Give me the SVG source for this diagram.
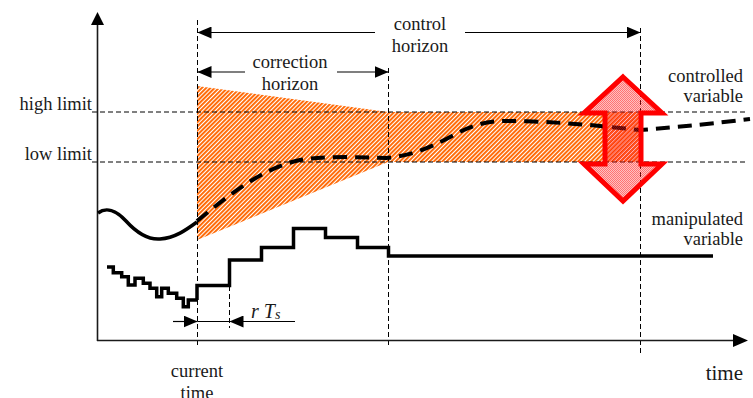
<svg xmlns="http://www.w3.org/2000/svg" width="753" height="398" viewBox="0 0 753 398">
<defs>
<pattern id="hatch" patternUnits="userSpaceOnUse" width="3" height="3" patternTransform="rotate(-45)">
<rect x="0" y="0" width="3" height="3" fill="#ffffff"/>
<rect x="0" y="0" width="3" height="1.9" fill="#ff6600"/>
</pattern>
<pattern id="chk" patternUnits="userSpaceOnUse" width="2" height="2">
<rect x="0" y="0" width="2" height="2" fill="#ff3030" fill-opacity="0.3"/>
<rect x="0" y="0" width="1" height="1" fill="#ff0000" fill-opacity="0.4"/>
<rect x="1" y="1" width="1" height="1" fill="#ff0000" fill-opacity="0.4"/>
</pattern>
<marker id="ah" viewBox="0 0 14 12" refX="14" refY="6" markerWidth="14" markerHeight="12" markerUnits="userSpaceOnUse" orient="auto-start-reverse">
<path d="M0,0 L14,6 L0,12 Z" fill="#000"/>
</marker>
</defs>
<style>
text{font-family:'Liberation Serif','Tinos','DejaVu Serif',serif;font-size:18.5px;fill:#1a1a1a}
.dash{fill:none;stroke:#000;stroke-width:1;stroke-dasharray:5,3}
.ax{fill:none;stroke:#1a1a1a;stroke-width:1.6}
.dim{fill:none;stroke:#000;stroke-width:1.2}
.thick{fill:none;stroke:#000;stroke-width:3.5;stroke-linejoin:miter}
</style>
<rect width="753" height="398" fill="#fff"/>

<g id="hatched-region">
<path d="M197,86 L388,112 L640,112 L640,162 L388,162 L197,240 Z" fill="url(#hatch)"/>
</g>

<g id="guides">
<line class="dash" x1="92" y1="112" x2="748" y2="112"/>
<line class="dash" x1="92" y1="162" x2="748" y2="162"/>
<line class="dash" x1="197.5" y1="20" x2="197.5" y2="348"/>
<line class="dash" x1="388.5" y1="68" x2="388.5" y2="348"/>
<line class="dash" x1="640.5" y1="28" x2="640.5" y2="356"/>
<line class="dash" x1="229.5" y1="286" x2="229.5" y2="328"/>
</g>

<g id="axes">
<line class="ax" x1="97.5" y1="341" x2="97.5" y2="24"/>
<path d="M91,25 L97.5,12 L104,25 Z" fill="#000"/>
<line class="ax" x1="97" y1="340.5" x2="734" y2="340.5"/>
<path d="M733,334 L748,340.5 L733,347 Z" fill="#000"/>
</g>

<g id="controlled-variable">
<path class="thick" stroke-width="3" d="M98,213 C106,207 116,210 126,221 C136,232 147,240 160,239 C175,238 186,230 197,222"/>
<path fill="none" stroke="#000" stroke-width="4" stroke-dasharray="14,8" d="M197,221 C228,196 262,168 300,160 C322,156 360,157 386,158 C410,156 430,148 452,136 C470,126 485,121 505,121 C540,121 580,124 600,126 L640,130 C680,127 718,123 750,119"/>
</g>

<g id="manipulated-variable">
<path class="thick" stroke-width="3" d="M107,267 H113.3 V272.7 H121.7 V276.7 H128.3 V285 H135 V278.3 H143.3 V283.3 H150 V288.3 H156.7 V296.7 H161.7 V288.3 H168.3 V293.3 H176.7 V298.3 H183.3 V306.7 H188.3 V300 H197"/>
<path class="thick" d="M197,300 V285.5 H229.5 V260 H261.5 V247.5 H293.5 V228.5 H325.5 V237.5 H357.5 V247.5 H388.5 V256 H713"/>
</g>

<g id="red-arrow">
<path d="M623,77 L662,113 L641,113 L641,164 L662,164 L623,201 L584,164 L605,164 L605,113 L584,113 Z" fill="url(#chk)" stroke="#ff0000" stroke-width="5" stroke-linejoin="miter"/>
</g>

<g id="connectors">
<line class="dim" x1="375" y1="32.5" x2="197.5" y2="32.5" marker-end="url(#ah)"/>
<line class="dim" x1="465" y1="32.5" x2="640.5" y2="32.5" marker-end="url(#ah)"/>
<line class="dim" x1="245" y1="72" x2="197.5" y2="72" marker-end="url(#ah)"/>
<line class="dim" x1="337" y1="72" x2="388.5" y2="72" marker-end="url(#ah)"/>
<line class="dim" x1="173" y1="321.5" x2="197.5" y2="321.5" marker-end="url(#ah)"/>
<line class="dim" x1="197.5" y1="321.5" x2="229.5" y2="321.5"/>
<line class="dim" x1="295" y1="321.5" x2="229.5" y2="321.5" marker-end="url(#ah)"/>
</g>

<g id="labels">
<text x="92" y="110" text-anchor="end">high limit</text>
<text x="92" y="160" text-anchor="end">low limit</text>
<text x="420" y="30" text-anchor="middle">control</text>
<text x="420" y="52" text-anchor="middle">horizon</text>
<text x="290" y="68" text-anchor="middle">correction</text>
<text x="290" y="90" text-anchor="middle">horizon</text>
<text x="743" y="82" text-anchor="end">controlled</text>
<text x="743" y="102" text-anchor="end">variable</text>
<text x="743" y="225" text-anchor="end">manipulated</text>
<text x="743" y="245" text-anchor="end">variable</text>
<text x="197" y="377" text-anchor="middle">current</text>
<text x="197" y="399" text-anchor="middle">time</text>
<text x="743" y="380" text-anchor="end" style="font-size:21px">time</text>
<text x="251" y="318" style="font-style:italic;font-size:20px">r T<tspan style="font-size:14px" dy="1">s</tspan></text>
</g>
</svg>
